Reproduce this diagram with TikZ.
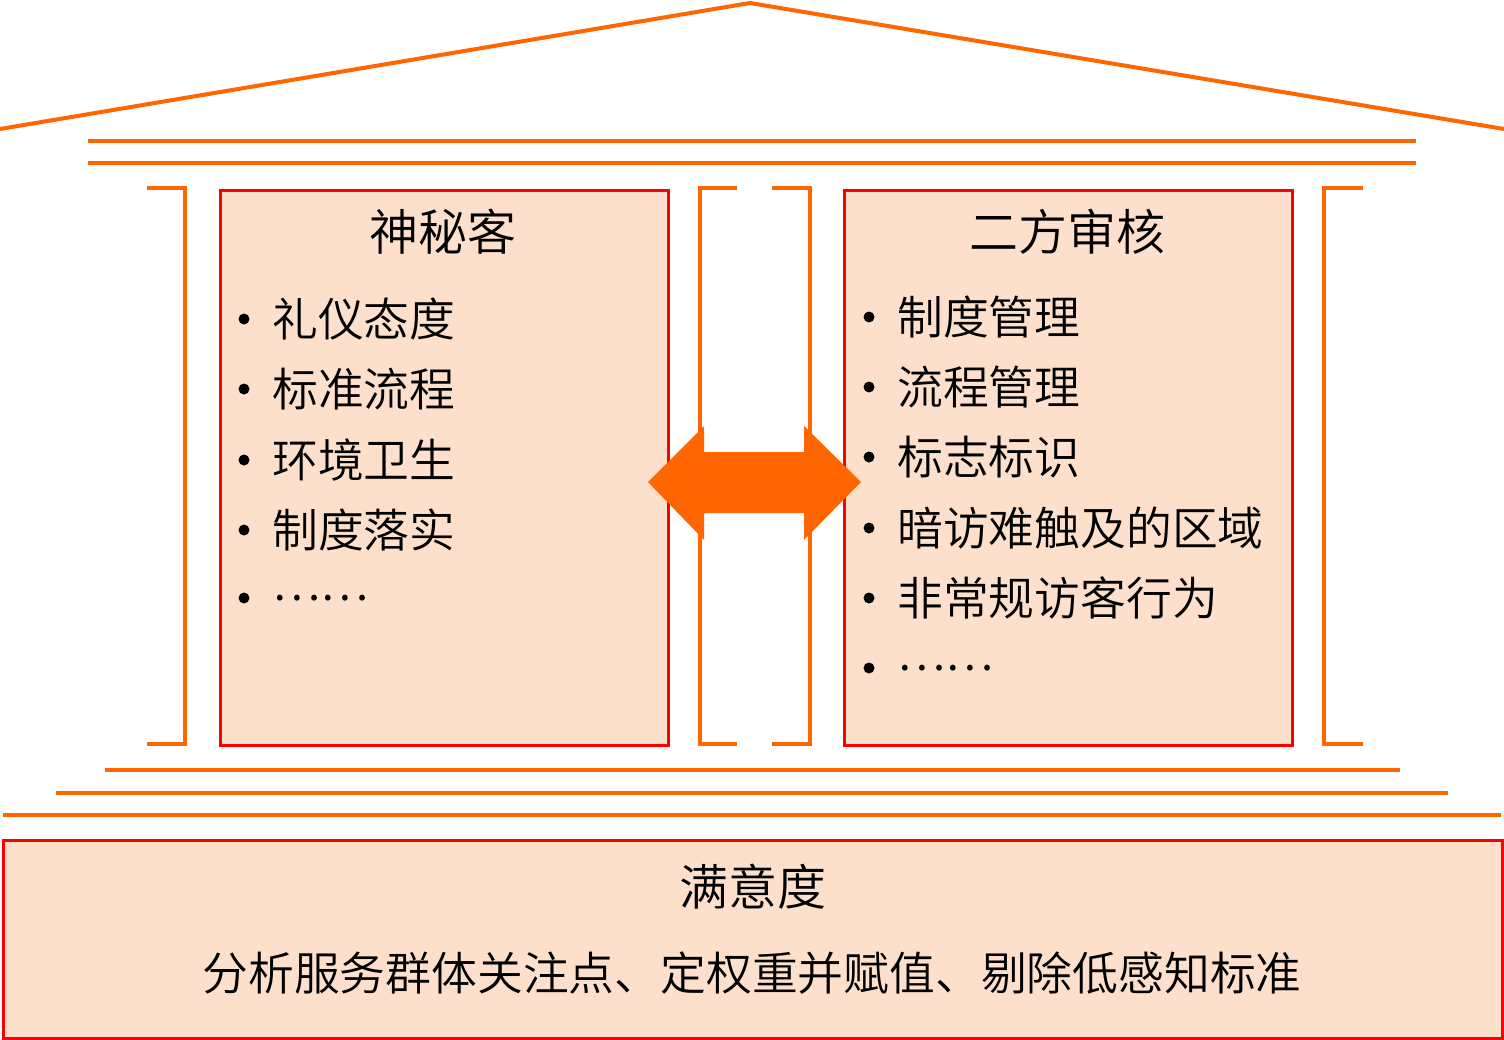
\documentclass[tikz,border=0pt]{standalone}
\usepackage{fontspec}
\setmainfont{Noto Sans CJK SC DemiLight}
\definecolor{hor}{RGB}{255,102,0}
\definecolor{hfill}{RGB}{253,224,204}
\definecolor{hred}{RGB}{255,0,0}
\begin{document}
\begin{tikzpicture}[x=1pt,y=-1pt,
  orline/.style={draw=hor,line width=4pt},
  brk/.style={draw=hor,line width=3.5pt},
  box/.style={draw=hred,fill=hfill,line width=2.5pt,inner sep=0pt,anchor=north west},
  ttl/.style={font=\fontsize{49}{58}\selectfont,inner sep=0pt},
  itm/.style={font=\fontsize{45.8}{54}\selectfont,inner sep=0pt,anchor=west},
  bdot/.style={fill=black,circle,inner sep=0pt,minimum size=11pt}]
\useasboundingbox (0,0) rectangle (1504,1039);
% roof
\draw[orline,line join=round] (0,129) -- (750,3) -- (1504,129);
\draw[orline] (88,141) -- (1416,141);
\draw[orline] (88,163) -- (1416,163);
% brackets
\draw[brk] (147,188) -- (185,188) -- (185,744) -- (147,744);
\draw[brk] (737,188) -- (700,188) -- (700,744) -- (737,744);
\draw[brk] (772,188) -- (810,188) -- (810,744) -- (772,744);
\draw[brk] (1363,188) -- (1324,188) -- (1324,744) -- (1363,744);
% boxes
\node[box,minimum width=448pt,minimum height=555pt] (lbox) at (219,189) {};
\node[box,minimum width=448pt,minimum height=555pt] (rbox) at (843,189) {};
% arrow
\fill[hor] (648,482) -- (704,426) -- (704,452) -- (804,452) -- (804,426) -- (861,482)
  -- (804,540) -- (804,513) -- (704,513) -- (704,540) -- cycle;
% titles
\node[ttl] (t1) at (443,232) {神秘客};
\node[ttl] (t2) at (1067,232) {二方审核};
% left items
\foreach \y/\t [count=\i] in {319/礼仪态度,389/标准流程,460/环境卫生,530/制度落实,598/……}{
  \node[bdot] (lb\i) at (244,\y) {};
  \node[itm] (li\i) at (272,\y) {\t};
}
% right items
\foreach \y/\t [count=\i] in {317/制度管理,387/流程管理,457/标志标识,528/暗访难触及的区域,598/非常规访客行为,668/……}{
  \node[bdot] (rb\i) at (869,\y) {};
  \node[itm] (ri\i) at (897,\y) {\t};
}
% base
\draw[orline] (105,770) -- (1400,770);
\draw[orline] (56,793) -- (1448,793);
\draw[orline] (3,815) -- (1501,815);
\node[box,minimum width=1499pt,minimum height=198pt] (bbox) at (2,839) {};
\node[ttl] (t3) at (753,887) {满意度};
\node[font=\fontsize{45.8}{54}\selectfont,inner sep=0pt] (bt) at (752,973) {分析服务群体关注点、定权重并赋值、剔除低感知标准};
\end{tikzpicture}
\end{document}
